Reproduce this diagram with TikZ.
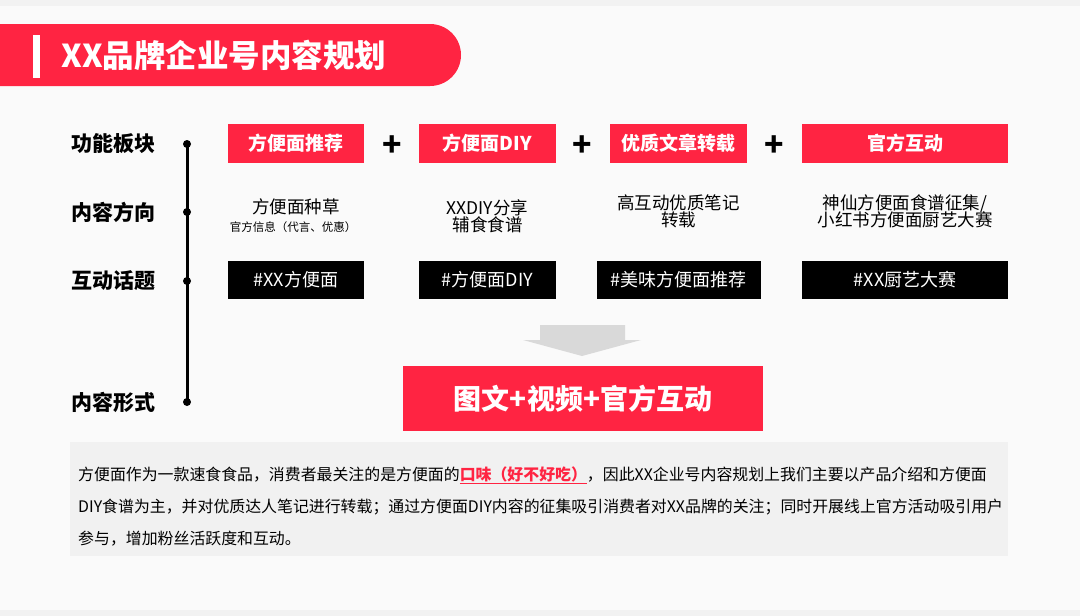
\documentclass[tikz,border=0pt]{standalone}
\usepackage{fontspec}
\setmainfont{Noto Sans CJK SC}
\definecolor{rd}{HTML}{FF2442}
\definecolor{bgc}{HTML}{FAFAFA}
\definecolor{para}{HTML}{F1F1F1}
\definecolor{arr}{HTML}{D9D9D9}
\tikzset{
 redbox/.style={fill=rd,text=white,font=\fontsize{19}{20}\selectfont\bfseries,inner sep=0},
 blkbox/.style={fill=black,text=white,font=\fontsize{18}{20}\selectfont,inner sep=0},
 lbl/.style={font=\fontsize{21}{22}\selectfont\bfseries},
 dir/.style={font=\fontsize{17.5}{20}\selectfont,align=center},
 plus/.style={font=\fontsize{32}{30}\selectfont\bfseries},
 ptxt/.style={anchor=west,font=\fontsize{15.9}{18}\selectfont,inner sep=0},
 dot/.style={circle,fill=black,inner sep=0,minimum size=8pt}
}
\begin{document}
\begin{tikzpicture}[x=1pt,y=-1pt]
\useasboundingbox (0,0) rectangle (1080,616);
\fill[bgc] (0,0) rectangle (1080,616);
\fill[white!90!gray] (0,0) rectangle (1080,6);
\fill[white!90!gray] (0,610) rectangle (1080,616);
% title
\fill[rd] (0,24) -- (430,24) arc[start angle=-90,end angle=90,radius=31] -- (0,86) -- cycle;
\fill[white] (33,35) rectangle (40,78);
\node[anchor=west,text=white,font=\fontsize{31.5}{32}\selectfont\bfseries] (title) at (58,55) {XX品牌企业号内容规划};
% left labels
\node[lbl] (l1) at (113,144) {功能板块};
\node[lbl] (l2) at (113,212) {内容方向};
\node[lbl] (l3) at (113,281) {互动话题};
\node[lbl] (l4) at (113,402) {内容形式};
\node[dot] (d1) at (187,144) {};
\node[dot] (d2) at (187,212) {};
\node[dot] (d3) at (187,281) {};
\node[dot] (d4) at (187,402) {};
\draw[line width=3pt] (d1.center) -- (d4.center);
% red boxes
\node[redbox,minimum width=136pt,minimum height=39pt] (r1) at (296,143.5) {方便面推荐};
\node[redbox,minimum width=137pt,minimum height=39pt] (r2) at (487.5,143.5) {方便面DIY};
\node[redbox,minimum width=137pt,minimum height=39pt] (r3) at (678.5,143.5) {优质文章转载};
\node[redbox,minimum width=206pt,minimum height=39pt] (r4) at (905,143.5) {官方互动};
\node[plus] (p1) at (392,146) {+};
\node[plus] (p2) at (582,146) {+};
\node[plus] (p3) at (774,146) {+};
% directions
\node[dir] (c1) at (296,207) {方便面种草};
\node[font=\fontsize{11.5}{12}\selectfont] (c1b) at (293,227) {官方信息（代言、优惠）};
\node[dir] (c2) at (487.5,216) {XXDIY分享\\[-3pt]辅食食谱};
\node[dir] (c3) at (678.5,211) {高互动优质笔记\\[-3pt]转载};
\node[dir] (c4) at (905,211) {神仙方便面食谱征集/\\[-3pt]小红书方便面厨艺大赛};
% black boxes
\node[blkbox,minimum width=136pt,minimum height=38pt] (b1) at (296,280) {\#XX方便面};
\node[blkbox,minimum width=137pt,minimum height=38pt] (b2) at (487.5,280) {\#方便面DIY};
\node[blkbox,minimum width=164pt,minimum height=38pt] (b3) at (678.5,280) {\#美味方便面推荐};
\node[blkbox,minimum width=206pt,minimum height=38pt] (b4) at (905,280) {\#XX厨艺大赛};
% arrow
\fill[arr] (540,325) -- (625,325) -- (625,340) -- (641,340) -- (582,356) -- (523,340) -- (540,340) -- cycle;
% big box
\node[fill=rd,text=white,minimum width=360pt,minimum height=65pt,font=\fontsize{28}{30}\selectfont\bfseries] (big) at (583,398.5) {图文+视频+官方互动};
% paragraph
\fill[para] (70,442) rectangle (1008,556);
\node[ptxt] (t1) at (78,475) {方便面作为一款速食食品，消费者最关注的是方便面的{\color{rd}\bfseries\underline{口味（好不好吃）}}，因此XX企业号内容规划上我们主要以产品介绍和方便面};
\node[ptxt] (t2) at (78,507) {DIY食谱为主，并对优质达人笔记进行转载；通过方便面DIY内容的征集吸引消费者对XX品牌的关注；同时开展线上官方活动吸引用户};
\node[ptxt] (t3) at (78,539) {参与，增加粉丝活跃度和互动。};
\end{tikzpicture}
\end{document}
